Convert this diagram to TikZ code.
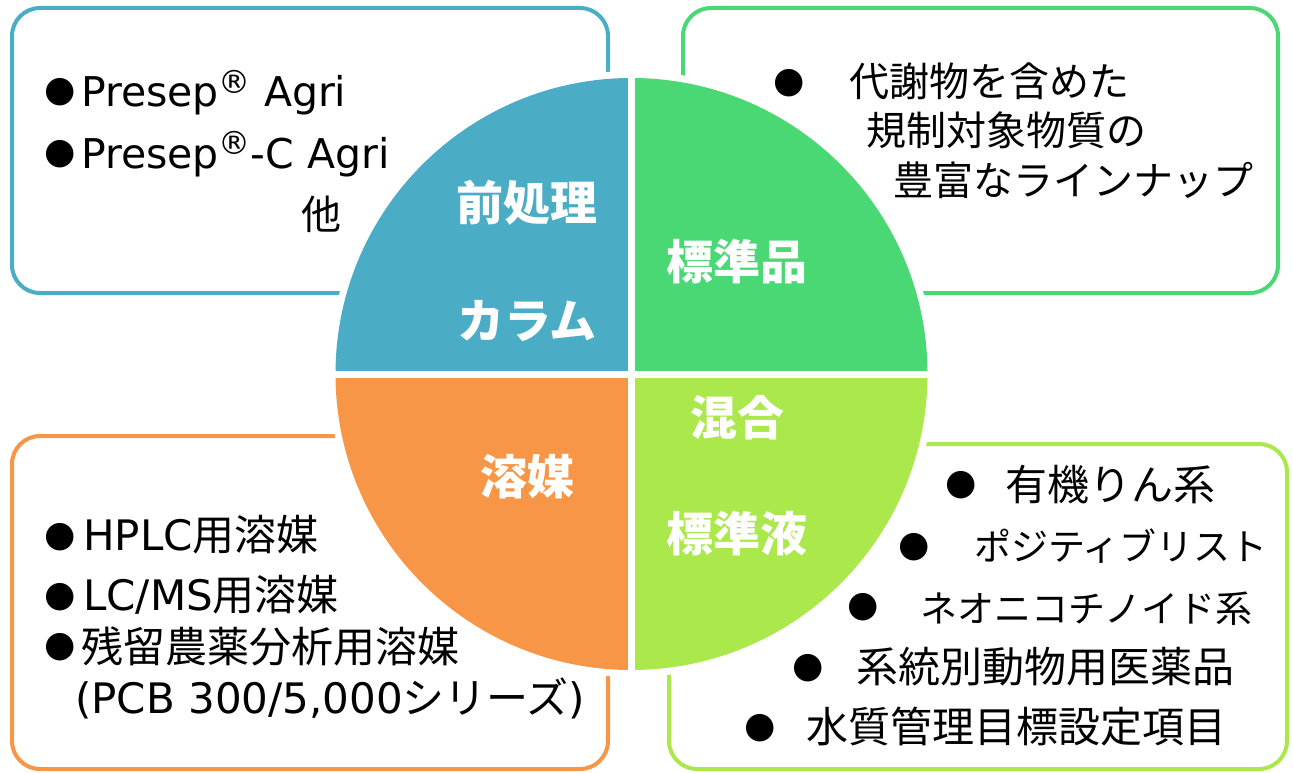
\documentclass[tikz,border=0pt]{standalone}
\usepackage{fontspec}
\setmainfont{DejaVu Sans}
\newfontfamily\cjk{Noto Sans CJK JP}
\definecolor{qblue}{HTML}{4BACC6}
\definecolor{qgreen}{HTML}{4AD874}
\definecolor{qorange}{HTML}{F79646}
\definecolor{qlime}{HTML}{AAE84C}
\newcommand{\regmark}{\raisebox{0.32em}{\fontsize{32}{32}\selectfont ®}}
\tikzset{
  box/.style={line width=4pt, rounded corners=28pt, fill=white},
  lab/.style={text=white, inner sep=0, font=\cjk\bfseries\fontsize{47}{50}\selectfont},
  ln/.style={anchor=base west, inner sep=0, font=\fontsize{#1}{#1}\selectfont},
  ln/.default=42,
  jln/.style={anchor=base west, inner sep=0, font=\cjk\fontsize{#1}{#1}\selectfont},
  jln/.default=40,
  bul/.style={inner sep=0, font=\fontsize{36}{40}\selectfont},
}
\begin{document}
\begin{tikzpicture}[x=1pt,y=-1pt]
\useasboundingbox (0,0) rectangle (1293,773);
% boxes
\draw[box, draw=qblue] (12,8) rectangle (608,293);
\draw[box, draw=qgreen] (683,8) rectangle (1278,293);
\draw[box, draw=qorange] (12,436) rectangle (608,769);
\draw[box, draw=qlime] (669,444) rectangle (1287,769);
% circle
\fill[white] (631.5,374) circle (303);
\begin{scope}
  \clip (631.5,374) circle (296);
  \fill[qblue] (628,370.5) rectangle (300,50);
  \fill[qgreen] (635,370.5) rectangle (960,50);
  \fill[qorange] (628,377.5) rectangle (300,700);
  \fill[qlime] (635,377.5) rectangle (960,700);
\end{scope}
% quadrant labels
\node[lab] (q1a) at (527,203) {前処理};
\node[lab] (q1b) at (527,321) {カラム};
\node[lab] (q2) at (737,262) {標準品};
\node[lab] (q3) at (527,477) {溶媒};
\node[lab] (q4a) at (737,418) {混合};
\node[lab] (q4b) at (737,534) {標準液};
% blue box
\node[bul] (bb1) at (60,92) {●};
\node[ln=41] (bt1) at (81,107) {Presep\regmark{} Agri};
\node[bul] (bb2) at (60,154) {●};
\node[ln=41] (bt2) at (81,168) {Presep\regmark-C Agri};
\node[jln] (bt3) at (301,229) {他};
% green box
\node[bul] (gb1) at (789,83) {●};
\node[jln] (gt1) at (849,97) {代謝物を含めた};
\node[jln] (gt2) at (866,146) {規制対象物質の};
\node[jln] (gt3) at (893,195) {豊富なラインナップ};
% orange box
\node[bul] (ob1) at (60,537) {●};
\node[ln] (ot1) at (83,550) {HPLC{\cjk 用溶媒}};
\node[bul] (ob2) at (60,597) {●};
\node[ln] (ot2) at (83,610) {LC/MS{\cjk 用溶媒}};
\node[bul] (ob3) at (60,647) {●};
\node[jln=42] (ot3) at (81,662) {残留農薬分析用溶媒};
\node[ln] (ot4) at (75,713) {(PCB 300/5,000{\cjk シリーズ})};
% lime box
\node[bul] (lb1) at (961,485) {●};
\node[jln=42] (lt1) at (1005,500) {有機りん系};
\node[bul] (lb2) at (914,547) {●};
\node[jln=37] (lt2) at (974,560) {ポジティブリスト};
\node[bul] (lb3) at (863,607) {●};
\node[jln=37] (lt3) at (920,622) {ネオニコチノイド系};
\node[bul] (lb4) at (808,668) {●};
\node[jln=42] (lt4) at (856,682) {系統別動物用医薬品};
\node[bul] (lb5) at (760,728) {●};
\node[jln=42] (lt5) at (806,742) {水質管理目標設定項目};
\end{tikzpicture}
\end{document}
